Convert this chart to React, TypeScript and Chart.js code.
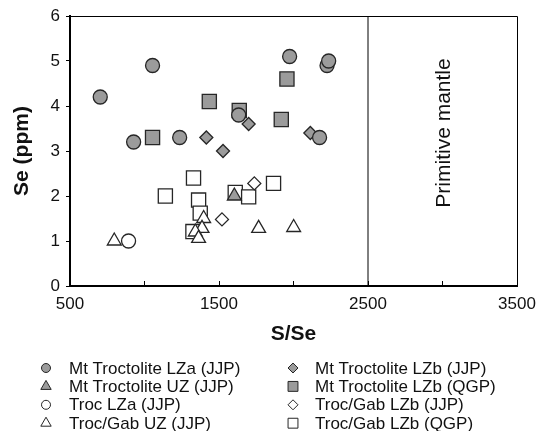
import React, { useEffect, useRef } from "react";
import { Chart, registerables } from "chart.js";

Chart.register(...registerables);

// ---- data ----
const mtLZaX = [703, 927, 1054, 1236, 1632, 1974, 2225, 2236, 2175];
const mtLZaY = [4.2, 3.2, 4.9, 3.3, 3.8, 5.1, 4.9, 5.0, 3.3];

const mtUZX = [1603];
const mtUZY = [2.0];

const trocLZaX = [893];
const trocLZaY = [1.0];

const trocGabUZX = [797, 1397, 1386, 1341, 1363, 1766, 2001];
const trocGabUZY = [1.0, 1.5, 1.28, 1.2, 1.06, 1.28, 1.3];

const mtLZbJJPX = [1415, 1527, 1699, 2113];
const mtLZbJJPY = [3.3, 3.0, 3.6, 3.4];

const mtLZbQGPX = [1054, 1435, 1636, 1956, 1918];
const mtLZbQGPY = [3.3, 4.1, 3.9, 4.6, 3.7];

const trocGabLZbJJPX = [1737, 1520];
const trocGabLZbJJPY = [2.28, 1.48];

const trocGabLZbQGPX = [1329, 1140, 1363, 1374, 1325, 1609, 1699, 1866];
const trocGabLZbQGPY = [2.4, 2.0, 1.91, 1.62, 1.21, 2.08, 1.98, 2.28];

const primitiveMantleX = [2500, 2500];
const primitiveMantleY = [0, 6];

const xTickLabels = [500, 1500, 2500, 3500];

const seriesLabels = [
  "Mt Troctolite LZa (JJP)",
  "Mt Troctolite UZ (JJP)",
  "Troc LZa (JJP)",
  "Troc/Gab UZ (JJP)",
  "Mt Troctolite LZb (JJP)",
  "Mt Troctolite LZb (QGP)",
  "Troc/Gab LZb (JJP)",
  "Troc/Gab LZb (QGP)",
];

const GRAY = "#9b9b9b";
const EDGE = "#262626";
const FONT = "'Liberation Sans', Arial, sans-serif";

const pts = (xs: number[], ys: number[]) => xs.map((x, i) => ({ x, y: ys[i] }));

type Sty = { style: string; fill: string; r: number; lr: number; order: number };
const styles: Sty[] = [
  { style: "circle", fill: GRAY, r: 7, lr: 4.5, order: 1 },
  { style: "triangle", fill: GRAY, r: 8, lr: 6, order: 3 },
  { style: "circle", fill: "#ffffff", r: 7, lr: 4.5, order: 5 },
  { style: "triangle", fill: "#ffffff", r: 8, lr: 6, order: 4 },
  { style: "rectRot", fill: GRAY, r: 6.5, lr: 5, order: 2 },
  { style: "rect", fill: GRAY, r: 10, lr: 7, order: 7 },
  { style: "rectRot", fill: "#ffffff", r: 6.5, lr: 5, order: 6 },
  { style: "rect", fill: "#ffffff", r: 10, lr: 7, order: 8 },
];

const seriesData = [
  pts(mtLZaX, mtLZaY),
  pts(mtUZX, mtUZY),
  pts(trocLZaX, trocLZaY),
  pts(trocGabUZX, trocGabUZY),
  pts(mtLZbJJPX, mtLZbJJPY),
  pts(mtLZbQGPX, mtLZbQGPY),
  pts(trocGabLZbJJPX, trocGabLZbJJPY),
  pts(trocGabLZbQGPX, trocGabLZbQGPY),
];

function drawMarker(ctx: CanvasRenderingContext2D, style: string, x: number, y: number, r: number) {
  ctx.beginPath();
  if (style === "circle") {
    ctx.arc(x, y, r, 0, Math.PI * 2);
  } else if (style === "triangle") {
    for (let k = 0; k < 3; k++) {
      const a = (k * 2 * Math.PI) / 3;
      const px = x + Math.sin(a) * r;
      const py = y - Math.cos(a) * r;
      if (k === 0) ctx.moveTo(px, py);
      else ctx.lineTo(px, py);
    }
  } else if (style === "rectRot") {
    ctx.moveTo(x, y - r);
    ctx.lineTo(x + r, y);
    ctx.lineTo(x, y + r);
    ctx.lineTo(x - r, y);
  } else {
    const s = r * Math.SQRT1_2;
    ctx.rect(x - s, y - s, 2 * s, 2 * s);
  }
  ctx.closePath();
  ctx.fill();
  ctx.stroke();
}

const decorPlugin = {
  id: "decor",
  beforeDatasetsDraw(chart: any) {
    const { ctx, chartArea } = chart;
    ctx.save();
    ctx.strokeStyle = "#000";
    ctx.lineWidth = 1;
    ctx.beginPath();
    ctx.moveTo(chartArea.left, chartArea.top + 0.5);
    ctx.lineTo(chartArea.right + 0.5, chartArea.top + 0.5);
    ctx.lineTo(chartArea.right + 0.5, chartArea.bottom);
    ctx.stroke();
    ctx.restore();
  },
  afterDraw(chart: any) {
    const { ctx, chartArea } = chart;
    const xs = chart.scales.x;
    ctx.save();
    ctx.fillStyle = "#111";
    // axis titles
    ctx.font = `bold 21px ${FONT}`;
    ctx.textAlign = "center";
    ctx.textBaseline = "middle";
    ctx.fillText("S/Se", (chartArea.left + chartArea.right) / 2, 334);
    ctx.save();
    ctx.translate(22, (chartArea.top + chartArea.bottom) / 2);
    ctx.rotate(-Math.PI / 2);
    ctx.fillText("Se (ppm)", 0, 0);
    ctx.restore();
    // Primitive mantle label
    ctx.font = `21px ${FONT}`;
    ctx.save();
    const px = (xs.getPixelForValue(2500) + chartArea.right) / 2 + 2;
    ctx.translate(px, 133);
    ctx.rotate(-Math.PI / 2);
    ctx.fillText("Primitive mantle", 0, 0);
    ctx.restore();
    // legend
    ctx.font = `17px ${FONT}`;
    ctx.textAlign = "left";
    ctx.textBaseline = "middle";
    ctx.strokeStyle = EDGE;
    ctx.lineWidth = 1;
    const colMarker = [46, 293];
    const colText = [69, 315];
    for (let i = 0; i < 8; i++) {
      const col = i < 4 ? 0 : 1;
      const row = i % 4;
      const y = 368 + row * 18.4;
      const st = styles[i];
      ctx.fillStyle = st.fill;
      drawMarker(ctx, st.style, colMarker[col], y, st.lr);
      ctx.fillStyle = "#111";
      ctx.fillText(seriesLabels[i], colText[col], y + 1);
    }
    ctx.restore();
  },
};

export default function App() {
  const ref = useRef<HTMLCanvasElement | null>(null);
  useEffect(() => {
    if (!ref.current) return;
    const datasets: any[] = seriesData.map((d, i) => ({
      type: "scatter",
      label: seriesLabels[i],
      data: d,
      pointStyle: styles[i].style,
      pointRadius: styles[i].r,
      pointHoverRadius: styles[i].r,
      backgroundColor: styles[i].fill,
      borderColor: EDGE,
      borderWidth: 1.3,
      order: styles[i].order,
    }));
    datasets.push({
      type: "line",
      label: "Primitive mantle",
      data: pts(primitiveMantleX, primitiveMantleY),
      borderColor: "#000",
      borderWidth: 1,
      pointRadius: 0,
      order: 9,
    });
    const chart = new Chart(ref.current, {
      type: "scatter",
      data: { datasets },
      plugins: [decorPlugin],
      options: {
        animation: false,
        responsive: false,
        devicePixelRatio: 1,
        layout: { padding: { left: 0, right: 22, top: 16, bottom: 0 } },
        plugins: { legend: { display: false }, tooltip: { enabled: false } },
        scales: {
          x: {
            type: "linear",
            min: 500,
            max: 3500,
            afterFit: (s: any) => {
              s.height = 145;
              s.paddingLeft = 0;
              s.paddingRight = 0;
            },
            ticks: {
              stepSize: 500,
              padding: 13,
              color: "#111",
              font: { family: FONT, size: 17 },
              maxRotation: 0,
              autoSkip: false,
              callback: (v: any) => (xTickLabels.includes(Number(v)) ? String(v) : ""),
            },
            grid: { drawOnChartArea: false, drawTicks: true, tickLength: -5, color: "#000", lineWidth: 1 },
            border: { display: true, color: "#000", width: 2 },
          },
          y: {
            type: "linear",
            min: 0,
            max: 6,
            afterFit: (s: any) => {
              s.width = 70;
              s.paddingTop = 0;
              s.paddingBottom = 0;
            },
            ticks: {
              stepSize: 1,
              padding: 6,
              color: "#111",
              font: { family: FONT, size: 17 },
            },
            grid: { drawOnChartArea: false, drawTicks: true, tickLength: 4, color: "#000", lineWidth: 1 },
            border: { display: true, color: "#000", width: 2 },
          },
        },
      },
    } as any);
    return () => chart.destroy();
  }, []);
  return (
    <div style={{ position: "absolute", left: 0, top: 0, width: 539, height: 431 }}>
      <canvas ref={ref} width={539} height={431} style={{ display: "block" }} />
    </div>
  );
}
